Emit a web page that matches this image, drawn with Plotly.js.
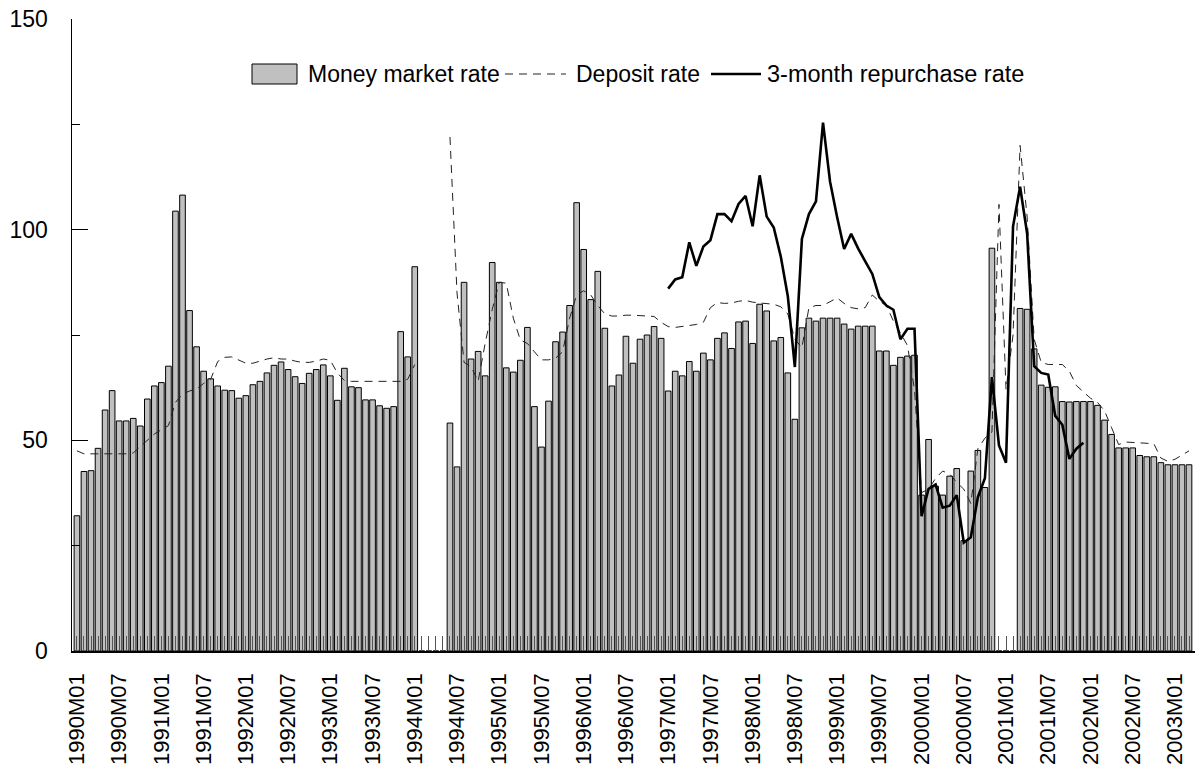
<!DOCTYPE html>
<html><head><meta charset="utf-8">
<script src="https://cdn.plot.ly/plotly-3.0.1.min.js"></script>
<style>html,body{margin:0;padding:0;background:#fff}#chart{width:1195px;height:773px}</style>
</head><body><div id="chart"></div>
<script>
// Monthly categories 1990M01 .. 2003M03
const months = [];
for (let y = 1990; y <= 2003; y++) {
  for (let m = 1; m <= 12; m++) {
    if (months.length < 159) months.push(y + 'M' + String(m).padStart(2, '0'));
  }
}
const tickLabels = months.filter((_, i) => i % 6 === 0);

const moneyMarket = [
  32.1, 42.6, 42.8, 48.1, 57.2, 61.8, 54.6, 54.6, 55.2, 53.4,
  59.8, 62.9, 63.7, 67.6, 104.4, 108.2, 80.8, 72.2, 66.4, 64.6,
  62.9, 61.9, 61.8, 60.0, 60.6, 63.2, 64.0, 66.0, 67.8, 68.6,
  66.8, 65.1, 63.5, 65.9, 66.8, 67.9, 65.3, 59.5, 67.1, 62.7,
  62.5, 59.6, 59.6, 58.2, 57.6, 58.0, 75.8, 69.8, 91.2, 0,
  0, 0, 0, 54.1, 43.7, 87.5, 69.3, 71.1, 65.3, 92.2,
  87.5, 67.2, 66.2, 69.0, 76.8, 58.0, 48.4, 59.3, 73.4, 75.7,
  82.0, 106.4, 95.3, 83.4, 90.1, 76.6, 62.9, 65.5, 74.7, 68.3,
  74.0, 75.0, 77.0, 74.2, 61.7, 66.4, 65.3, 68.7, 66.4, 70.7,
  69.1, 74.2, 75.5, 71.8, 78.1, 78.3, 73.0, 82.3, 80.7, 73.6,
  74.4, 66.0, 55.0, 76.7, 79.0, 78.3, 79.0, 79.0, 79.0, 77.6,
  76.4, 77.1, 77.1, 77.1, 71.2, 71.2, 67.8, 69.7, 70.0, 70.2,
  37.0, 50.2, 39.1, 37.0, 41.5, 43.3, 26.2, 42.7, 47.6, 38.8,
  95.6, 0, 0, 0, 81.3, 81.1, 71.7, 63.1, 62.6, 62.7,
  59.2, 59.1, 59.2, 59.2, 59.2, 58.3, 54.8, 51.4, 48.2, 48.2,
  48.2, 46.4, 46.1, 46.1, 44.7, 44.2, 44.2, 44.2, 44.2
];

const depositRate = [
  47.5, 46.8, 46.8, 46.8, 46.8, 46.8, 46.8, 46.8, 47.0, 48.5,
  50.1, 51.5, 52.5, 53.5, 59.0, 61.0, 61.7, 62.2, 63.5, 64.5,
  68.7, 69.7, 69.8, 69.0, 68.3, 68.3, 68.8, 69.3, 69.6, 69.3,
  69.3, 68.8, 68.5, 68.5, 68.8, 69.3, 69.0, 66.0, 64.2, 64.0,
  64.0, 64.0, 64.0, 64.0, 64.0, 64.0, 64.0, 64.5, 68.0, null,
  null, null, null, 122, 85, 68.5, 67.5, 64.0, 73.0, 81.0,
  87.5, 87.3, 79.0, 73.8, 73.0, 71.0, 69.1, 69.1, 69.5, 71.0,
  79.0, 84.5, 85.5, 84.5, 82.0, 80.0, 79.5, 79.5, 79.7, 79.7,
  79.6, 79.6, 79.4, 78.0, 77.0, 76.8, 77.0, 77.2, 77.5, 78.0,
  81.5, 82.7, 82.5, 82.6, 83.0, 83.2, 82.8, 82.6, 82.5, 82.3,
  81.7, 80.0, 74.0, 72.0, 81.5, 82.0, 82.0, 83.0, 83.8, 82.5,
  81.5, 81.2, 81.5, 84.5, 83.0, 82.0, 78.3, 75.5, 72.5, 62.0,
  37.6, 38.4, 41.0, 42.7, 42.0, 40.0, 38.4, 35.0, 48.0, 50.5,
  52.0, 106, 62, 75, 120, 103, 74, 68.5, 68.0, 68.0,
  68.0, 66.4, 63.0, 61.5, 60.0, 59.0, 57.0, 53.0, 49.0, 49.6,
  49.5, 49.3, 49.3, 49.2, 45.8, 45.0, 45.5, 46.5, 47.5
];

const repurchaseStart = '1997M01';
const repurchaseRate = [
  86, 88.2, 88.7, 97, 91.4, 96, 97.5, 103.7, 103.7, 102,
  106.1, 108, 100.8, 112.9, 103.1, 100.5, 93.6, 84.2, 67.4, 97.8,
  103.7, 106.7, 125.4, 111.4, 103, 95.4, 99, 95.5, 92.5, 89.5,
  84, 82, 81, 74, 76.5, 76.5, 32, 38.5, 39.5, 34,
  34.5, 37, 25.7, 27, 36.5, 41, 65, 48.8, 44.7, 100.8,
  110.2, 99.1, 67.6, 66, 65.6, 55.8, 53.7, 45.6, 48, 49.4
];
const repStartIdx = months.indexOf(repurchaseStart);
const repMonths = months.slice(repStartIdx, repStartIdx + repurchaseRate.length);

const seriesNames = ['Money market rate', 'Deposit rate', '3-month repurchase rate'];

const FONT = 'Liberation Sans, Arial, Helvetica, sans-serif';

const traces = [
  {
    type: 'bar', name: seriesNames[0], x: months, y: moneyMarket,
    marker: {color: '#c0c0c0', line: {color: '#000', width: 1}},
    hoverinfo: 'x+y'
  },
  {
    type: 'scatter', mode: 'lines', name: seriesNames[1], x: months, y: depositRate,
    line: {color: '#222', width: 1, dash: '8px,6px'}, connectgaps: false
  },
  {
    type: 'scatter', mode: 'lines', name: seriesNames[2], x: repMonths, y: repurchaseRate,
    line: {color: '#000', width: 2.6}
  }
];

// plot area geometry (pixels) used for custom legend placement
const L = 72, R = 1195, T = 19, B = 651;
const px = v => (v - L) / (R - L);
const py = v => (B - v) / (B - T);
const legY = 74;

const layout = {
  width: 1195, height: 773,
  margin: {l: L, r: 1195 - R, t: T, b: 773 - B, pad: 0},
  paper_bgcolor: '#fff', plot_bgcolor: '#fff',
  bargap: 0.2,
  showlegend: false,
  font: {family: FONT, size: 23, color: '#000'},
  xaxis: {
    type: 'category', range: [-0.7, 158.85],
    tickmode: 'array', tickvals: months,
    ticktext: months.map(m => tickLabels.includes(m) ? m : ''),
    tickangle: -90, ticks: 'inside', ticklen: 15, tickwidth: 1, tickcolor: '#555',
    showline: true, linecolor: '#000', linewidth: 1.5,
    showgrid: false, zeroline: false, ticklabelstandoff: 12, automargin: false,
    tickfont: {family: FONT, size: 22, color: '#000'}
  },
  yaxis: {
    range: [0, 150], tickmode: 'linear', tick0: 0, dtick: 50,
    ticks: 'inside', ticklen: 16, tickwidth: 1, tickcolor: '#000',
    minor: {dtick: 25, tick0: 0, ticks: 'inside', ticklen: 8, tickwidth: 1, tickcolor: '#000'},
    showline: true, linecolor: '#000', linewidth: 1.5,
    showgrid: false, zeroline: false, ticklabelstandoff: 18, automargin: false,
    tickfont: {family: FONT, size: 23, color: '#000'}
  },
  shapes: [
    {type: 'rect', xref: 'paper', yref: 'paper', x0: px(252), x1: px(297), y0: py(84), y1: py(64),
     fillcolor: '#c0c0c0', line: {color: '#000', width: 1}},
    {type: 'line', xref: 'paper', yref: 'paper', x0: px(505), x1: px(566), y0: py(legY), y1: py(legY),
     line: {color: '#222', width: 1, dash: '8px,6px'}},
    {type: 'line', xref: 'paper', yref: 'paper', x0: px(711), x1: px(761), y0: py(legY), y1: py(legY),
     line: {color: '#000', width: 2.6}}
  ],
  annotations: [
    {xref: 'paper', yref: 'paper', x: px(306), y: py(legY), xanchor: 'left', yanchor: 'middle',
     text: seriesNames[0], showarrow: false, font: {family: FONT, size: 23, color: '#000'}},
    {xref: 'paper', yref: 'paper', x: px(574), y: py(legY), xanchor: 'left', yanchor: 'middle',
     text: seriesNames[1], showarrow: false, font: {family: FONT, size: 23, color: '#000'}},
    {xref: 'paper', yref: 'paper', x: px(765), y: py(legY), xanchor: 'left', yanchor: 'middle',
     text: seriesNames[2], showarrow: false, font: {family: FONT, size: 23.5, color: '#000'}}
  ]
};

Plotly.newPlot('chart', traces, layout, {displayModeBar: false, staticPlot: true});
</script>
</body></html>
